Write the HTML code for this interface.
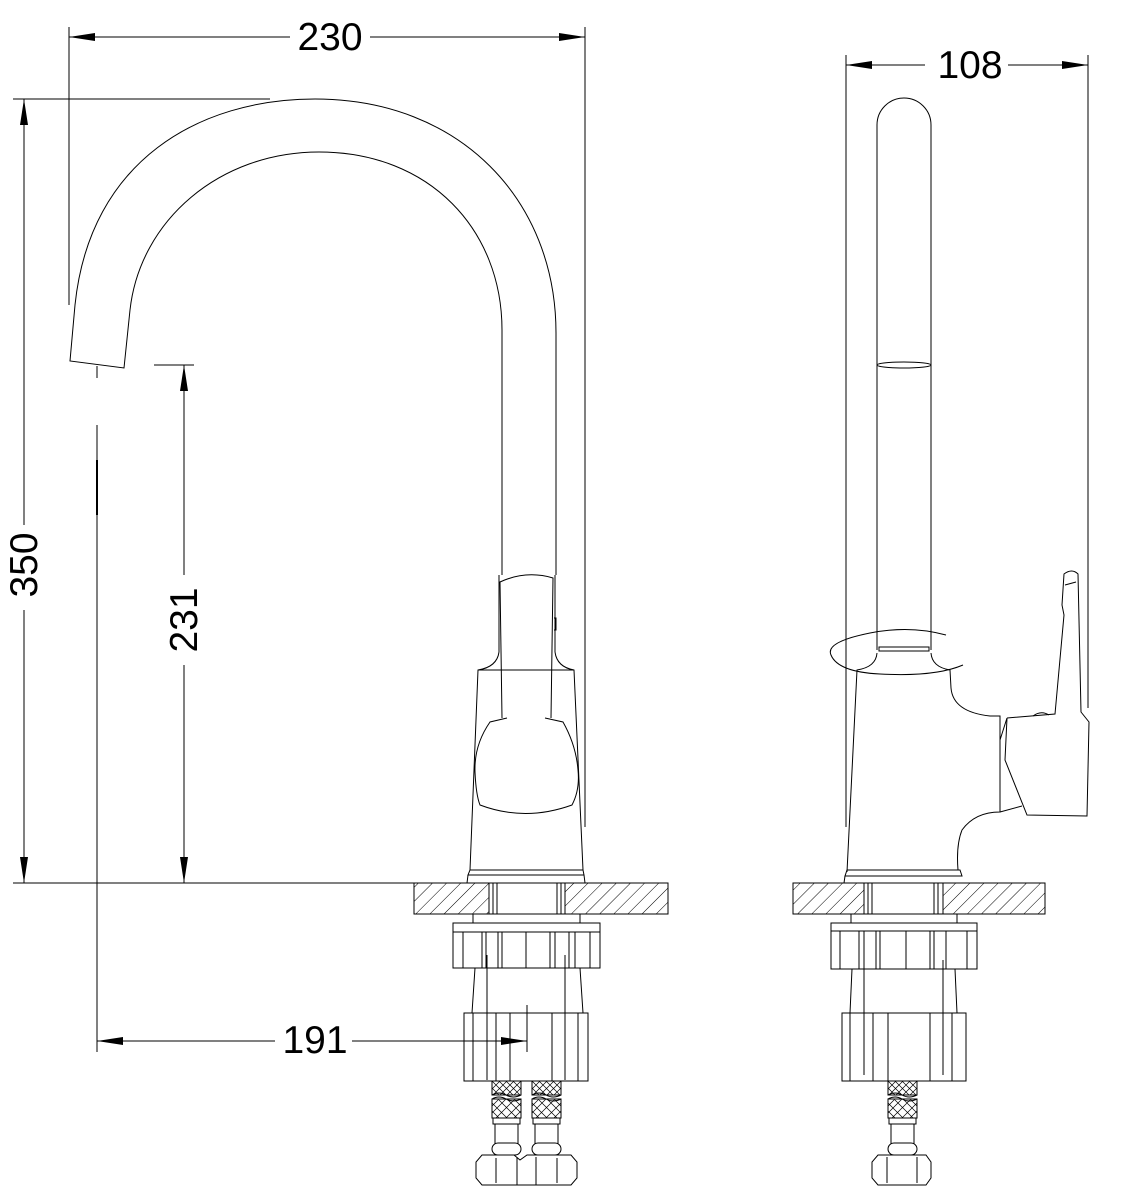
<!DOCTYPE html>
<html><head><meta charset="utf-8"><style>
html,body{margin:0;padding:0;background:#fff;}
svg{display:block;}
text{font-family:"Liberation Sans",sans-serif;fill:#000;}
</style></head><body>
<svg width="1146" height="1200" viewBox="0 0 1146 1200" xmlns="http://www.w3.org/2000/svg">
<defs>
<pattern id="h" patternUnits="userSpaceOnUse" width="10" height="10" patternTransform="rotate(45)">
<line x1="0" y1="0" x2="0" y2="10" stroke="#000" stroke-width="1"/>
</pattern>
<marker id="a" viewBox="0 0 10 10" refX="10" refY="5" markerWidth="26" markerHeight="8" markerUnits="userSpaceOnUse" orient="auto-start-reverse" preserveAspectRatio="none">
<path d="M0,0 L10,5 L0,10 z" fill="#000"/>
</marker>
<g id="hose" fill="#fff" stroke="#000" stroke-width="1">
<rect x="0" y="0" width="29" height="14"/>
<rect x="0" y="18" width="29" height="19"/>
<path d="M0,14 Q7,10 14,14 T29,14" fill="none"/>
<path d="M0,18 Q7,14 14,18 T29,18" fill="none"/>
<path d="M0,0 L14,14 M7,0 L21,14 M14,0 L28,14 M21,0 L29,8 M0,7 L7,14 M29,0 L15,14 M22,0 L8,14 M15,0 L1,14 M8,0 L0,8 M29,7 L22,14" stroke-width="0.7"/>
<path d="M0,22 L15,37 M7,19 L25,37 M15,18 L29,32 M22,18 L29,25 M0,30 L7,37 M29,22 L14,37 M22,19 L4,37 M14,18 L0,32 M7,18 L0,25 M29,30 L22,37" stroke-width="0.7"/>
<rect x="1" y="37" width="27" height="6"/>
<rect x="3" y="43" width="23" height="20"/>
<rect x="0" y="62" width="29" height="12" rx="6"/>
</g>
</defs>

<g stroke="#000" stroke-width="1" fill="none">
<!-- 230 dimension -->
<line x1="69" y1="27" x2="69" y2="305"/>
<line x1="585" y1="27" x2="585" y2="827"/>
<line x1="69" y1="37" x2="290" y2="37" marker-start="url(#a)"/>
<line x1="370" y1="37" x2="585" y2="37" marker-end="url(#a)"/>
<!-- 350 -->
<line x1="13" y1="99" x2="270" y2="99"/>
<line x1="24" y1="99" x2="24" y2="525" marker-start="url(#a)"/>
<line x1="24" y1="610" x2="24" y2="883" marker-end="url(#a)"/>
<line x1="13" y1="883" x2="414" y2="883"/>
<!-- 231 -->
<line x1="154" y1="365" x2="194" y2="365"/>
<line x1="184" y1="365" x2="184" y2="575" marker-start="url(#a)"/>
<line x1="184" y1="665" x2="184" y2="883" marker-end="url(#a)"/>
<!-- spout center -->
<line x1="97" y1="366" x2="97" y2="378"/>
<line x1="97" y1="425" x2="97" y2="1052"/>
<line x1="97" y1="460" x2="97" y2="515" stroke-width="2"/>
<!-- 191 -->
<line x1="97" y1="1041" x2="275" y2="1041" marker-start="url(#a)"/>
<line x1="352" y1="1041" x2="527" y2="1041" marker-end="url(#a)"/>
<line x1="527" y1="1005" x2="527" y2="1052"/>

<!-- spout -->
<path d="M75,305 C90,160 200,99 315,99 C460,99 556,200 556,333 L556,575"/>
<path d="M130,310 C140,220 220,152 319,152 C430,152 502,230 502,330 L502,575"/>
<path d="M75,305 L70,361 L124,368 L130,310"/>
<!-- lever -->
<path d="M499,575 L499,652 M555,575 L555,652"/>
<path d="M502,718 L500,582 Q526,570 553,578 L551,718"/>
<path d="M554,618 L556,618 L556,630 L554,630"/>
<path d="M499,652 Q497,667 478,670 L470,870 M555,652 Q557,667 574,670 L583,870"/>
<path d="M478,670 L574,670"/>
<path d="M507,718 L490,722 Q474,745 475,772 Q476,795 480,805 Q525,822 572,805 Q580,790 578,770 Q576,745 563,722 L545,718"/>
<path d="M470,870 L583,870 L584,875 L468,875 Z M468,875 L467,883 L585,883 L584,875"/>
<!-- counter left -->
<rect x="414" y="883" width="75" height="31" fill="url(#h)"/>
<rect x="565" y="883" width="103" height="31" fill="url(#h)"/>
<path d="M493,883 L493,914 M497,883 L497,914 M557,883 L557,914 M561,883 L561,914"/>
<rect x="473" y="914" width="107" height="9"/>
<rect x="453" y="923" width="147" height="45"/>
<path d="M453,932 L600,932 M463,932 L463,968 M482,932 L482,968 M486,932 L486,968 M498,932 L498,968 M502,932 L502,968 M526,932 L526,968 M550,932 L550,968 M555,932 L555,968 M569,932 L569,968 M575,932 L575,968 M590,932 L590,968"/>
<path d="M475,968 L472,1013 M580,968 L583,1013 M487,955 L487,1080 M565,955 L565,1080"/>
<rect x="464" y="1013" width="124" height="68"/>
<path d="M473,1013 L473,1081 M496,1013 L496,1081 M510,1013 L510,1081 M552,1013 L552,1081 M578,1013 L578,1081"/>
<!-- right view -->
<line x1="846" y1="55" x2="846" y2="827"/>
<line x1="1088" y1="55" x2="1088" y2="708"/>
<line x1="846" y1="65" x2="925" y2="65" marker-start="url(#a)"/>
<line x1="1008" y1="65" x2="1088" y2="65" marker-end="url(#a)"/>
<path d="M877,650 L877,125 A27,27 0 0 1 931,125 L931,650"/>
<ellipse cx="904" cy="365" rx="27" ry="3"/>
<path d="M879,647 L929,647 L929,651 L879,651 Z"/>
<path d="M946,635 Q910,625 870,633 Q825,642 831,655 Q838,672 880,674 Q935,677 963,665"/>
<path d="M877,653 Q876,667 857,670 L847,872 M931,653 Q932,667 950,670 L951,688 Q953,712 990,716 L1000,716 L1000,812 Q975,812 962,830 Q956,845 958,870"/>
<path d="M1000,740 L1007,718 M1000,812 L1022,806"/>
<path d="M1007,718 L1005,760 L1027,815 L1087,816 L1089,722 L1081,712 L1078,574 Q1072,568 1064,574 L1062,605 L1064,615 L1055,714 L1007,718"/>
<path d="M1033,716 Q1041,710 1049,715"/>
<path d="M1065,585 L1076,582"/>
<path d="M847,870 L960,870 L962,876 L845,876 Z M845,876 L844,883 L963,883"/>
<rect x="793" y="883" width="71" height="31" fill="url(#h)"/>
<rect x="943" y="883" width="102" height="31" fill="url(#h)"/>
<path d="M868,883 L868,914 M872,883 L872,914 M934,883 L934,914 M938,883 L938,914"/>
<rect x="851" y="914" width="106" height="9"/>
<rect x="831" y="923" width="146" height="46"/>
<path d="M831,931 L977,931 M840,931 L840,969 M859,931 L859,969 M864,931 L864,969 M876,931 L876,969 M880,931 L880,969 M906,931 L906,969 M930,931 L930,969 M934,931 L934,969 M946,931 L946,969 M967,931 L967,969"/>
<path d="M852,969 L850,1013 M955,969 L957,1013 M864,960 L864,1075 M943,960 L943,1075"/>
<rect x="842" y="1013" width="124" height="68"/>
<path d="M850,1013 L850,1081 M873,1013 L873,1081 M888,1013 L888,1081 M930,1013 L930,1081 M952,1013 L952,1081"/>
</g>
<use href="#hose" x="492" y="1081"/>
<use href="#hose" x="532" y="1081"/>
<use href="#hose" x="888" y="1081"/>
<g stroke="#000" stroke-width="1" fill="#fff">
<path d="M482,1155 L514,1155 L520,1160 L527,1155 L571,1155 L577,1162 L577,1178 L571,1185 L482,1185 L476,1178 L476,1162 Z"/>
<path d="M517,1157 L517,1185 M536,1157 L536,1185 M496,1158 L496,1183 M557,1158 L557,1183"/>
<path d="M878,1155 L926,1155 L931,1162 L931,1178 L926,1185 L878,1185 L872,1178 L872,1162 Z"/>
<path d="M887,1157 L887,1183 M917,1157 L917,1183"/>
</g>
<text x="330" y="50" font-size="39" text-anchor="middle">230</text>
<text x="970" y="78" font-size="39" text-anchor="middle">108</text>
<text x="315" y="1053" font-size="39" text-anchor="middle">191</text>
<text transform="translate(37,565) rotate(-90)" font-size="39" text-anchor="middle">350</text>
<text transform="translate(197,620) rotate(-90)" font-size="39" text-anchor="middle">231</text>
</svg>
</body></html>
